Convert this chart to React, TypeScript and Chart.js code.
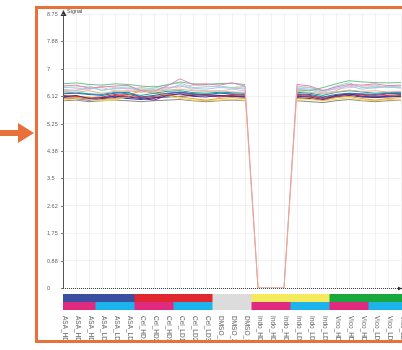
import React, { useEffect, useRef } from "react";
import { Chart, registerables } from "chart.js";

Chart.register(...registerables);

const sampleLabels = [
  "ASA_HD1", "ASA_HD2", "ASA_HD3", "ASA_LD1", "ASA_LD2", "ASA_LD3",
  "Cel_HD1", "Cel_HD2", "Cel_HD3", "Cel_LD1", "Cel_LD2", "Cel_LD3",
  "DMSO_1", "DMSO_2", "DMSO_3",
  "Indo_HD1", "Indo_HD2", "Indo_HD3", "Indo_LD1", "Indo_LD2", "Indo_LD3",
  "Vico_HD1", "Vico_HD2", "Vico_HD3", "Vico_LD1", "Vico_LD2", "Vico_LD3",
];

const yTickValues = [0, 0.875, 1.75, 2.625, 3.5, 4.375, 5.25, 6.125, 7, 7.875, 8.75];
const yTickLabels = ["0", "0.88", "1.75", "2.62", "3.5", "4.38", "5.25", "6.12", "7", "7.88", "8.75"];

const compoundColors: Record<string, string> = {
  ASA: "#3b4ea0", Cel: "#e0262e", DMSO: "#dcdcdc", Indo: "#f4ea5c", Vico: "#18a83c",
};
const doseColors: Record<string, string> = { HD: "#e02a7e", LD: "#1db4ec", none: "#dcdcdc" };

const seriesTan = [6.28,6.25,6.30,6.22,6.28,6.30,6.25,6.28,6.32,6.35,6.30,6.28,6.30,6.26,6.25,0,0,0,6.28,6.25,6.20,6.26,6.32,6.28,6.30,6.26,6.28];
const seriesGreen = [6.52,6.55,6.50,6.48,6.52,6.50,6.45,6.42,6.48,6.58,6.52,6.50,6.53,6.54,6.50,0,0,0,6.32,6.30,6.40,6.52,6.62,6.58,6.56,6.55,6.56];
const seriesPink = [6.45,6.48,6.38,6.42,6.45,6.47,6.30,6.28,6.45,6.68,6.50,6.52,6.48,6.55,6.45,0,0,0,6.50,6.45,6.30,6.42,6.50,6.48,6.52,6.46,6.48];
const seriesLightTeal = [6.40,6.42,6.45,6.30,6.38,6.42,6.35,6.38,6.50,6.55,6.40,6.42,6.45,6.40,6.42,0,0,0,6.42,6.40,6.28,6.45,6.55,6.40,6.44,6.42,6.45];
const seriesLightBlue = [6.35,6.30,6.40,6.32,6.36,6.38,6.30,6.34,6.40,6.45,6.38,6.35,6.40,6.38,6.36,0,0,0,6.38,6.35,6.25,6.38,6.45,6.35,6.40,6.42,6.38];
const seriesGray = [6.30,6.32,6.35,6.40,6.30,6.28,6.32,6.30,6.35,6.50,6.32,6.30,6.28,6.35,6.30,0,0,0,6.35,6.32,6.22,6.30,6.48,6.42,6.38,6.45,6.40];
const seriesBlue = [6.20,6.22,6.18,6.15,6.22,6.25,6.10,6.15,6.22,6.25,6.20,6.18,6.22,6.20,6.18,0,0,0,6.20,6.18,6.10,6.18,6.22,6.20,6.18,6.22,6.20];
const seriesTeal = [6.22,6.25,6.20,6.18,6.25,6.20,6.15,6.22,6.28,6.30,6.24,6.22,6.25,6.24,6.22,0,0,0,6.25,6.22,6.15,6.25,6.30,6.26,6.22,6.24,6.25];
const seriesPurple = [6.10,6.15,6.05,6.08,6.12,6.10,6.05,6.00,6.15,6.20,6.12,6.10,6.15,6.12,6.10,0,0,0,6.12,6.10,6.02,6.15,6.20,6.12,6.10,6.12,6.14];
const seriesOrange = [6.05,6.08,6.10,6.02,6.05,6.15,6.30,6.22,6.18,6.10,6.05,6.00,6.05,6.08,6.05,0,0,0,6.05,6.08,6.00,6.08,6.12,6.05,6.00,6.05,6.08];
const seriesYellow = [6.00,6.05,6.02,5.98,6.00,6.10,6.35,6.30,6.15,6.05,6.00,5.98,6.00,6.02,6.00,0,0,0,6.00,6.02,5.98,6.02,6.08,6.00,5.98,6.02,6.00];
const seriesRed = [6.15,6.12,6.08,6.10,6.18,6.12,6.08,6.12,6.15,6.20,6.18,6.15,6.12,6.18,6.15,0,0,0,6.15,6.12,6.08,6.15,6.18,6.16,6.12,6.15,6.18];
const seriesNavy = [6.08,6.05,6.00,6.05,6.08,6.05,6.02,6.08,6.10,6.12,6.15,6.18,6.15,6.12,6.10,0,0,0,6.08,6.05,6.00,6.10,6.15,6.10,6.08,6.10,6.12];
const seriesMagenta = [6.12,6.10,6.02,6.05,6.15,6.18,6.10,6.05,6.20,6.25,6.20,6.15,6.10,6.15,6.12,0,0,0,6.18,6.15,6.05,6.12,6.20,6.18,6.15,6.20,6.22];
const seriesDarkGray = [5.98,6.00,5.95,5.98,6.00,5.98,5.95,5.98,6.00,6.02,5.98,5.95,5.98,6.00,5.98,0,0,0,5.98,5.95,5.92,5.98,6.02,5.98,5.95,5.98,6.00];
const seriesLightPink = [6.42,6.38,6.35,6.45,6.40,6.35,6.40,6.45,6.38,6.42,6.48,6.45,6.42,6.40,6.44,0,0,0,6.45,6.40,6.32,6.35,6.40,6.45,6.48,6.40,6.42];

const seriesList = [
  { name: "s1", data: seriesTan, color: "#e8b08c" },
  { name: "s2", data: seriesPink, color: "#e384b8" },
  { name: "s3", data: seriesGreen, color: "#6cc48e" },
  { name: "s4", data: seriesLightTeal, color: "#9fd8d0" },
  { name: "s5", data: seriesLightBlue, color: "#a8c8ea" },
  { name: "s6", data: seriesGray, color: "#c8c8c8" },
  { name: "s7", data: seriesBlue, color: "#1f6fb4" },
  { name: "s8", data: seriesTeal, color: "#17a0a0" },
  { name: "s9", data: seriesPurple, color: "#5b2a86" },
  { name: "s10", data: seriesOrange, color: "#f0a030" },
  { name: "s11", data: seriesYellow, color: "#e8d858" },
  { name: "s12", data: seriesRed, color: "#d63a3a" },
  { name: "s13", data: seriesNavy, color: "#2a3a8c" },
  { name: "s14", data: seriesMagenta, color: "#c02a8a" },
  { name: "s15", data: seriesDarkGray, color: "#8a8a8a" },
  { name: "s16", data: seriesLightPink, color: "#f4b6d0" },
];

const FONT = "'Liberation Sans', Arial, sans-serif";
const ORANGE = "#e8703a";

const decorPlugin = {
  id: "decor",
  afterDraw(chart: any) {
    const ctx = chart.ctx as CanvasRenderingContext2D;
    const area = chart.chartArea;
    const xs = chart.scales.x;
    const ys = chart.scales.y;
    const left = area.left;
    const bottom = area.bottom;
    const step = xs.getPixelForValue(1) - xs.getPixelForValue(0);
    ctx.save();

    // y axis line with arrow
    ctx.strokeStyle = "#555";
    ctx.lineWidth = 1;
    ctx.beginPath();
    ctx.moveTo(left + 0.5, bottom);
    ctx.lineTo(left + 0.5, area.top - 1);
    ctx.stroke();
    ctx.fillStyle = "#333";
    ctx.beginPath();
    ctx.moveTo(left + 0.5, area.top - 4);
    ctx.lineTo(left - 2.5, area.top + 2);
    ctx.lineTo(left + 3.5, area.top + 2);
    ctx.closePath();
    ctx.fill();

    // y ticks and labels
    ctx.font = `5.5px ${FONT}`;
    ctx.textAlign = "left";
    ctx.textBaseline = "middle";
    yTickValues.forEach((v, i) => {
      const y = Math.round(ys.getPixelForValue(v)) + 0.5;
      ctx.strokeStyle = "#777";
      ctx.beginPath();
      ctx.moveTo(left - 2, y);
      ctx.lineTo(left + 1, y);
      ctx.stroke();
      ctx.fillStyle = "#666";
      ctx.fillText(yTickLabels[i], 47, y);
    });

    // y title
    ctx.fillStyle = "#444";
    ctx.font = `5.5px ${FONT}`;
    ctx.textBaseline = "middle";
    ctx.fillText("Signal", left + 4, area.top - 3);

    // x axis dotted line with arrow
    ctx.strokeStyle = "#444";
    ctx.setLineDash([1, 1]);
    ctx.beginPath();
    ctx.moveTo(left, bottom + 0.5);
    ctx.lineTo(chart.width, bottom + 0.5);
    ctx.stroke();
    ctx.setLineDash([]);
    ctx.fillStyle = "#333";
    ctx.beginPath();
    ctx.moveTo(chart.width, bottom + 0.5);
    ctx.lineTo(chart.width - 4, bottom - 1.5);
    ctx.lineTo(chart.width - 4, bottom + 2.5);
    ctx.closePath();
    ctx.fill();

    // colour bars
    ctx.save();
    ctx.beginPath();
    ctx.rect(left, 0, chart.width - left, chart.height);
    ctx.clip();
    sampleLabels.forEach((lab, i) => {
      const cx = xs.getPixelForValue(i);
      const parts = lab.split("_");
      const comp = parts[0];
      const dose = parts[1].startsWith("HD") ? "HD" : parts[1].startsWith("LD") ? "LD" : "none";
      ctx.fillStyle = compoundColors[comp];
      ctx.fillRect(cx - step / 2, 294, step + 0.5, 8);
      ctx.fillStyle = doseColors[dose];
      ctx.fillRect(cx - step / 2, 302, step + 0.5, 8);
    });
    ctx.restore();

    // rotated sample labels
    ctx.save();
    ctx.beginPath();
    ctx.rect(0, 312, chart.width, 28);
    ctx.clip();
    ctx.fillStyle = "#666";
    ctx.font = `6.5px ${FONT}`;
    ctx.textAlign = "left";
    ctx.textBaseline = "middle";
    sampleLabels.forEach((lab, i) => {
      const cx = xs.getPixelForValue(i) + 2;
      ctx.save();
      ctx.translate(cx, 316);
      ctx.rotate(Math.PI / 2);
      ctx.fillText(lab, 0, 0);
      ctx.restore();
    });
    ctx.restore();

    // orange frame
    ctx.strokeStyle = ORANGE;
    ctx.lineWidth = 3;
    ctx.strokeRect(36.5, 7.5, 600, 334);

    // orange arrow
    ctx.fillStyle = ORANGE;
    ctx.fillRect(0, 130, 19, 6);
    ctx.beginPath();
    ctx.moveTo(18, 123);
    ctx.lineTo(34, 133);
    ctx.lineTo(18, 143);
    ctx.closePath();
    ctx.fill();

    ctx.restore();
  },
};

export default function App() {
  const canvasRef = useRef<HTMLCanvasElement | null>(null);

  useEffect(() => {
    const canvas = canvasRef.current;
    if (!canvas) return;
    const chart = new Chart(canvas, {
      type: "line",
      data: {
        labels: sampleLabels,
        datasets: seriesList.map((s, idx) => ({
          label: s.name,
          data: s.data,
          borderColor: s.color,
          backgroundColor: s.color,
          borderWidth: 1,
          pointRadius: 0,
          tension: 0,
          fill: false,
          segment:
            idx < 2
              ? undefined
              : {
                  borderColor: (c: any) =>
                    c.p0.parsed.y === 0 || c.p1.parsed.y === 0 ? "rgba(0,0,0,0)" : undefined,
                },
        })),
      },
      options: {
        animation: false,
        responsive: false,
        devicePixelRatio: 1,
        layout: { padding: { left: 63, right: 1, top: 14, bottom: 62 } },
        plugins: { legend: { display: false }, tooltip: { enabled: false } },
        scales: {
          x: {
            type: "category",
            offset: false,
            ticks: { display: false },
            border: { display: false },
            grid: { color: "rgba(0,0,0,0.05)", drawTicks: false },
          },
          y: {
            min: 0,
            max: 8.75,
            afterBuildTicks: (scale: any) => {
              scale.ticks = yTickValues.map((v) => ({ value: v }));
            },
            ticks: { display: false },
            border: { display: false },
            grid: { color: "rgba(0,0,0,0.05)", drawTicks: false },
          },
        },
      },
      plugins: [decorPlugin],
    });
    return () => chart.destroy();
  }, []);

  return (
    <div style={{ position: "fixed", left: 0, top: 0, width: 402, height: 350, overflow: "hidden", background: "#fff" }}>
      <canvas ref={canvasRef} width={402} height={350} style={{ display: "block", width: 402, height: 350 }} />
    </div>
  );
}
